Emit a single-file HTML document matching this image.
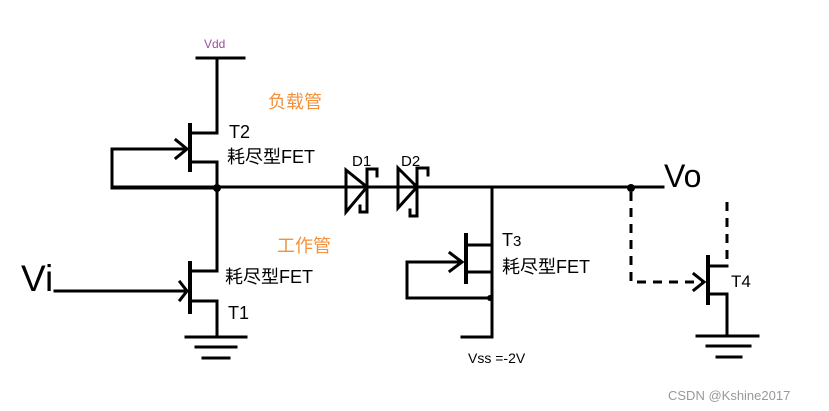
<!DOCTYPE html>
<html><head><meta charset="utf-8"><style>
html,body{margin:0;padding:0;background:#fff;}
svg{display:block;}
text{font-family:"Liberation Sans","Noto Sans CJK SC",sans-serif;}
</style></head><body>
<svg width="829" height="411" viewBox="0 0 829 411" xmlns="http://www.w3.org/2000/svg">
<g stroke="#000" stroke-width="3" fill="none" stroke-linecap="square">
<line x1="197" y1="58" x2="244" y2="58"/>
<line x1="217" y1="58" x2="217" y2="133"/>
<line x1="190" y1="125" x2="190" y2="170" stroke-width="4"/>
<line x1="193" y1="133" x2="217" y2="133"/>
<line x1="193" y1="162" x2="217" y2="162"/>
<line x1="217" y1="162" x2="217" y2="271"/>
<polyline points="112,149 112,188 217,188"/>
<line x1="112" y1="149" x2="186" y2="149"/>
<polyline points="176,140 187,149 176,158"/>
<line x1="112" y1="187" x2="663" y2="187"/>
<polygon points="346,170 367,187 346,212" fill="none"/>
<polyline points="377,176 377,169 367,169 367,212 360,212 360,206"/>
<polygon points="398,168 417,187 398,208" fill="none"/>
<polyline points="428,175 428,168 417,168 417,216 410,216 410,210"/>
<line x1="190" y1="263" x2="190" y2="312" stroke-width="4"/>
<line x1="193" y1="271" x2="217" y2="271"/>
<line x1="193" y1="301" x2="217" y2="301"/>
<line x1="217" y1="301" x2="217" y2="337"/>
<line x1="55" y1="291" x2="186" y2="291"/>
<polyline points="180,282 187,291 180,300"/>
<line x1="186" y1="337" x2="246" y2="337"/>
<line x1="196" y1="347" x2="236" y2="347"/>
<line x1="203" y1="358" x2="229" y2="358"/>
<line x1="492" y1="187" x2="492" y2="337"/>
<line x1="466" y1="235" x2="466" y2="282" stroke-width="4"/>
<line x1="469" y1="245" x2="492" y2="245"/>
<line x1="469" y1="272" x2="492" y2="272"/>
<polyline points="407,262 407,298 492,298"/>
<line x1="407" y1="262" x2="461" y2="262"/>
<polyline points="450,253 462,262 450,271"/>
<line x1="462" y1="337" x2="492" y2="337"/>
<line x1="708" y1="257" x2="708" y2="303" stroke-width="4"/>
<line x1="711" y1="266" x2="727" y2="266"/>
<line x1="711" y1="294" x2="727" y2="294"/>
<line x1="727" y1="294" x2="727" y2="335"/>
<line x1="697" y1="336" x2="758" y2="336"/>
<line x1="707" y1="346" x2="750" y2="346"/>
<line x1="717" y1="357" x2="741" y2="357"/>
<polyline points="694,274 704,282 694,290"/>
</g>
<g stroke="#000" stroke-width="3" fill="none" stroke-dasharray="9,7">
<polyline points="631,192 631,282 704,282"/>
<line x1="727" y1="202" x2="727" y2="262"/>
</g>
<circle cx="217" cy="188" r="4" fill="#000"/>
<circle cx="631" cy="188" r="4" fill="#000"/>
<circle cx="490" cy="298" r="3" fill="#000"/>
<text x="204" y="48" font-size="12" fill="#9b4f9b">Vdd</text>
<text x="268" y="108" font-size="18" fill="#f5913a">负载管</text>
<text x="277" y="252" font-size="18" fill="#f5913a">工作管</text>
<text x="229" y="138" font-size="18">T2</text>
<text x="227" y="163" font-size="18">耗尽型FET</text>
<text x="225" y="283" font-size="18">耗尽型FET</text>
<text x="228" y="319" font-size="18">T1</text>
<text x="352" y="166" font-size="15">D1</text>
<text x="401" y="166" font-size="15">D2</text>
<text x="502" y="246" font-size="18">T<tspan font-size="15">3</tspan></text>
<text x="502" y="273" font-size="18">耗尽型FET</text>
<text x="731" y="287" font-size="17">T4</text>
<text x="468" y="363" font-size="14">Vss =-2V</text>
<text x="664" y="187" font-size="32">Vo</text>
<text x="21" y="291" font-size="37">Vi</text>
<text x="668" y="400" font-size="13" fill="#999">CSDN @Kshine2017</text>
</svg>
</body></html>
